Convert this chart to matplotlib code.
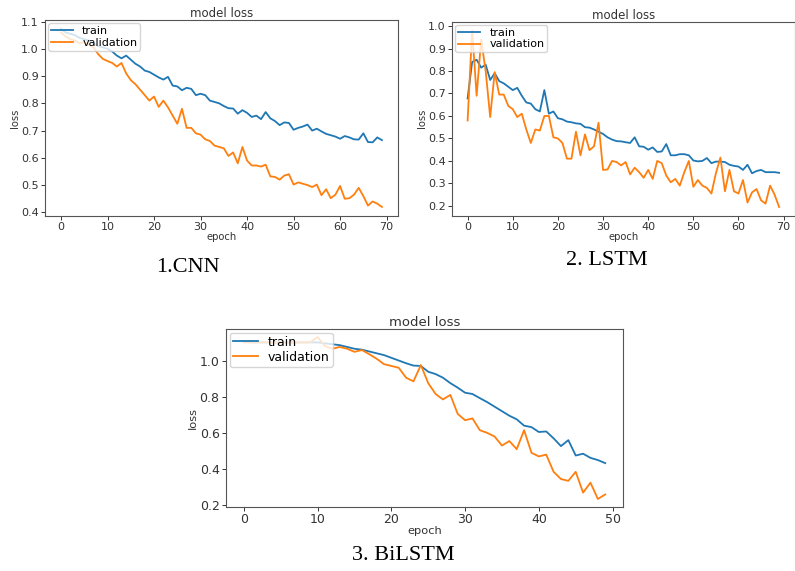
import numpy as np
import matplotlib
matplotlib.use("Agg")
import matplotlib.pyplot as plt
from matplotlib.ticker import MultipleLocator

# -----------------------------
# data
# -----------------------------
cnn_train = [1.073, 1.06, 1.055, 1.05, 1.04, 1.035, 1.03, 1.02, 1.01, 1.005,
             1.0, 0.99, 0.975, 0.965, 0.975, 0.96, 0.945, 0.935, 0.92, 0.915,
             0.905, 0.895, 0.887, 0.897, 0.865, 0.862, 0.848, 0.857, 0.853, 0.83,
             0.835, 0.83, 0.81, 0.805, 0.8, 0.79, 0.782, 0.781, 0.762, 0.775,
             0.765, 0.75, 0.755, 0.742, 0.768, 0.745, 0.735, 0.72, 0.73, 0.728,
             0.703, 0.71, 0.715, 0.722, 0.7, 0.707, 0.697, 0.688, 0.683, 0.678,
             0.67, 0.68, 0.675, 0.668, 0.667, 0.69, 0.658, 0.657, 0.675, 0.665]
cnn_val = [1.06, 1.045, 1.035, 1.03, 1.02, 1.025, 1.015, 1.005, 0.98, 0.963,
           0.955, 0.948, 0.935, 0.948, 0.91, 0.885, 0.87, 0.85, 0.83, 0.81,
           0.825, 0.787, 0.81, 0.785, 0.755, 0.725, 0.78, 0.71, 0.71, 0.69,
           0.685, 0.668, 0.662, 0.645, 0.64, 0.635, 0.607, 0.62, 0.58, 0.64,
           0.59, 0.572, 0.572, 0.568, 0.575, 0.532, 0.53, 0.52, 0.535, 0.54,
           0.502, 0.51, 0.505, 0.5, 0.493, 0.502, 0.463, 0.485, 0.452, 0.465,
           0.497, 0.45, 0.452, 0.465, 0.49, 0.46, 0.425, 0.44, 0.432, 0.42]

lstm_train = [0.678, 0.84, 0.85, 0.815, 0.828, 0.76, 0.79, 0.755, 0.745, 0.73,
              0.715, 0.725, 0.69, 0.66, 0.655, 0.63, 0.62, 0.715, 0.61, 0.62,
              0.59, 0.585, 0.575, 0.572, 0.567, 0.565, 0.55, 0.548, 0.54, 0.53,
              0.52, 0.505, 0.495, 0.488, 0.487, 0.483, 0.48, 0.505, 0.465, 0.463,
              0.45, 0.46, 0.44, 0.442, 0.475, 0.425, 0.425, 0.43, 0.43, 0.425,
              0.402, 0.398, 0.4, 0.413, 0.39, 0.397, 0.397, 0.395, 0.383, 0.378,
              0.375, 0.36, 0.383, 0.345, 0.355, 0.36, 0.35, 0.35, 0.35, 0.347]
lstm_val = [0.58, 0.98, 0.69, 0.94, 0.8, 0.595, 0.795, 0.695, 0.695, 0.645,
            0.63, 0.595, 0.61, 0.54, 0.48, 0.54, 0.535, 0.6, 0.6, 0.505,
            0.5, 0.48, 0.41, 0.41, 0.53, 0.425, 0.518, 0.448, 0.465, 0.57,
            0.36, 0.362, 0.4, 0.395, 0.38, 0.395, 0.34, 0.37, 0.35, 0.325,
            0.36, 0.32, 0.4, 0.39, 0.335, 0.305, 0.32, 0.29, 0.35, 0.4,
            0.285, 0.315, 0.29, 0.28, 0.255, 0.345, 0.415, 0.265, 0.36, 0.265,
            0.255, 0.315, 0.215, 0.26, 0.275, 0.225, 0.21, 0.29, 0.25, 0.195]

bilstm_train = [1.105, 1.1, 1.1, 1.1, 1.1, 1.1, 1.1, 1.1, 1.1, 1.1,
                1.1, 1.095, 1.09, 1.085, 1.075, 1.065, 1.06, 1.05, 1.04, 1.03,
                1.015, 1.0, 0.985, 0.972, 0.97, 0.938, 0.925, 0.905, 0.875, 0.85,
                0.822, 0.815, 0.792, 0.77, 0.745, 0.72, 0.695, 0.675, 0.64, 0.632,
                0.605, 0.608, 0.57, 0.527, 0.56, 0.475, 0.485, 0.462, 0.45, 0.433]
bilstm_val = [1.1, 1.1, 1.1, 1.1, 1.1, 1.1, 1.1, 1.1, 1.1, 1.1,
              1.13, 1.08, 1.065, 1.075, 1.065, 1.048, 1.058, 1.035, 1.01, 0.98,
              0.97, 0.96, 0.905, 0.885, 0.975, 0.875, 0.815, 0.785, 0.81, 0.705,
              0.67, 0.68, 0.615, 0.6, 0.58, 0.53, 0.555, 0.51, 0.615, 0.49,
              0.47, 0.48, 0.385, 0.345, 0.335, 0.385, 0.27, 0.325, 0.235, 0.26]

captions = ["1.CNN", "2. LSTM", "3. BiLSTM"]

TXT = "#333333"

fig = plt.figure(figsize=(7.95, 5.71), dpi=100)


def loss_panel(rect, train, val, fs, ystep):
    ax = fig.add_axes(rect)
    ax.plot(np.arange(len(train)), train, color="#1f77b4", lw=1.3, label="train")
    ax.plot(np.arange(len(val)), val, color="#ff7f0e", lw=1.3, label="validation")
    ax.yaxis.set_major_locator(MultipleLocator(ystep))
    ax.xaxis.set_major_locator(MultipleLocator(10))
    ax.set_title("model loss", fontsize=fs + 0.5, color=TXT, pad=2)
    ax.set_xlabel("epoch", fontsize=fs - 0.8, color=TXT, labelpad=0)
    ax.set_ylabel("loss", fontsize=fs - 0.8, color=TXT, labelpad=1)
    ax.tick_params(labelsize=fs, colors=TXT, length=3, width=0.7, pad=1.5)
    for s in ax.spines.values():
        s.set_color("#555555")
        s.set_linewidth(0.8)
    ax.legend(loc="upper left", fontsize=fs, borderpad=0.25, labelspacing=0.15,
              handlelength=2.0, borderaxespad=0.3)
    return ax


loss_panel([0.0566, 0.622, 0.444, 0.343], cnn_train, cnn_val, 8, 0.1)
loss_panel([0.5686, 0.622, 0.431, 0.340], lstm_train, lstm_val, 8, 0.1)
loss_panel([0.284, 0.112, 0.500, 0.312], bilstm_train, bilstm_val, 9, 0.2)

fig.text(0.237, 0.532, captions[0], ha="center", va="center",
         fontsize=16, family="Liberation Serif")
fig.text(0.763, 0.543, captions[1], ha="center", va="center",
         fontsize=16, family="Liberation Serif")
fig.text(0.507, 0.028, captions[2], ha="center", va="center",
         fontsize=16, family="Liberation Serif")

fig.savefig("out.png", dpi=100)
